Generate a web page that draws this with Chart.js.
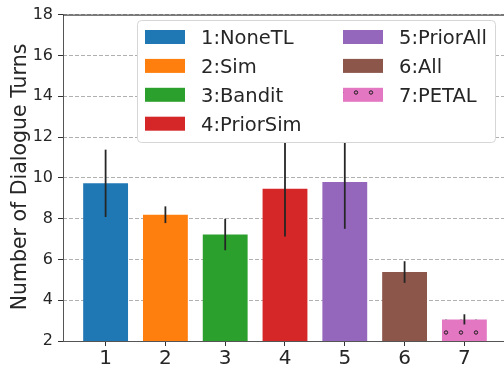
<!DOCTYPE html>
<html><head><meta charset="utf-8">
<script src="https://cdn.jsdelivr.net/npm/chart.js@4.4.1/dist/chart.umd.min.js"></script>
<style>html,body{margin:0;padding:0;background:#fff;overflow:hidden}</style>
</head><body><canvas id="c" width="504" height="371"></canvas>
<script>
const categories = [1, 2, 3, 4, 5, 6, 7];
const xTickLabels = ['1', '2', '3', '4', '5', '6', '7'];
const methodNames = ['1:NoneTL', '2:Sim', '3:Bandit', '4:PriorSim', '5:PriorAll', '6:All', '7:PETAL'];
const meanTurns = [9.73, 8.19, 7.22, 9.46, 9.80, 5.38, 3.06];
const errTurns = [1.65, 0.41, 0.77, 2.34, 2.30, 0.53, 0.25];
const yTicks = [2, 4, 6, 8, 10, 12, 14, 16, 18];
const barColors = ['#1f77b4', '#ff7f0e', '#2ca02c', '#d62728', '#9467bd', '#8c564b', '#e377c2'];

const canvas = document.getElementById('c');
const cctx = canvas.getContext('2d');
function makeDots(color) {
  const t = document.createElement('canvas'); t.width = 15; t.height = 15;
  const g = t.getContext('2d');
  g.fillStyle = color; g.fillRect(0, 0, 15, 15);
  g.strokeStyle = '#1a1a1a'; g.lineWidth = 1;
  g.beginPath(); g.arc(11, 2.5, 1.7, 0, Math.PI * 2); g.stroke();
  return cctx.createPattern(t, 'repeat');
}
const barFills = barColors.map((c, i) => i === 6 ? makeDots(c) : c);
const FONT = "'DejaVu Sans', sans-serif";
const TXT = '#262626';

const decor = {
  id: 'decor',
  afterDatasetsDraw(chart) {
    const { ctx, scales: { x, y }, chartArea: a } = chart;
    ctx.save();
    ctx.strokeStyle = '#262626'; ctx.lineWidth = 1.8;
    categories.forEach((c, i) => {
      const px = x.getPixelForValue(c);
      ctx.beginPath();
      ctx.moveTo(px, y.getPixelForValue(meanTurns[i] - errTurns[i]));
      ctx.lineTo(px, y.getPixelForValue(meanTurns[i] + errTurns[i]));
      ctx.stroke();
    });
    ctx.lineWidth = 1;
    ctx.strokeStyle = '#555';
    ctx.beginPath(); ctx.moveTo(a.left + 0.5, a.top); ctx.lineTo(a.left + 0.5, a.bottom + 0.5); ctx.stroke();
    ctx.beginPath(); ctx.moveTo(a.left, a.bottom + 0.5); ctx.lineTo(a.right, a.bottom + 0.5); ctx.stroke();
    ctx.strokeStyle = '#222';
    ctx.beginPath(); ctx.moveTo(a.left, a.top + 0.5); ctx.lineTo(a.right, a.top + 0.5); ctx.stroke();
    ctx.restore();
  },
  afterDraw(chart) {
    const ctx = chart.ctx;
    ctx.save();
    ctx.save();
    ctx.translate(26, 177); ctx.rotate(-Math.PI / 2);
    ctx.font = '20.5px ' + FONT; ctx.fillStyle = TXT;
    ctx.textAlign = 'center'; ctx.textBaseline = 'alphabetic';
    ctx.fillText('Number of Dialogue Turns', 0, 0);
    ctx.restore();
    const bx = 137.5, by = 20.5, bw = 358, bh = 122, r = 4;
    ctx.beginPath();
    ctx.moveTo(bx + r, by); ctx.lineTo(bx + bw - r, by); ctx.arcTo(bx + bw, by, bx + bw, by + r, r);
    ctx.lineTo(bx + bw, by + bh - r); ctx.arcTo(bx + bw, by + bh, bx + bw - r, by + bh, r);
    ctx.lineTo(bx + r, by + bh); ctx.arcTo(bx, by + bh, bx, by + bh - r, r);
    ctx.lineTo(bx, by + r); ctx.arcTo(bx, by, bx + r, by, r); ctx.closePath();
    ctx.fillStyle = '#ffffff'; ctx.fill();
    ctx.strokeStyle = '#d6d6d6'; ctx.lineWidth = 1; ctx.stroke();
    ctx.font = '19.5px ' + FONT; ctx.textAlign = 'left'; ctx.textBaseline = 'alphabetic';
    methodNames.forEach((name, i) => {
      const col = i < 4 ? 0 : 1, row = i < 4 ? i : i - 4;
      const sx = col ? 343 : 145, tx = col ? 399 : 201;
      const cy = 37 + row * 28.9;
      ctx.fillStyle = barFills[i];
      ctx.fillRect(sx, cy - 7, 40, 14);
      ctx.fillStyle = TXT;
      ctx.fillText(name, tx, cy + 6.8);
    });
    ctx.restore();
  }
};

new Chart(cctx, {
  type: 'bar',
  data: {
    datasets: [{
      data: categories.map((c, i) => ({ x: c, y: meanTurns[i] })),
      backgroundColor: barFills,
      borderWidth: 0,
      barPercentage: 0.75,
      categoryPercentage: 1.0
    }]
  },
  options: {
    responsive: false,
    animation: false,
    events: [],
    layout: { padding: { top: 10, right: 0, left: 0, bottom: 0 } },
    plugins: { legend: { display: false }, tooltip: { enabled: false } },
    scales: {
      x: {
        type: 'linear',
        offset: false,
        min: 0.2875, max: 7.6625,
        afterBuildTicks: s => { s.ticks = categories.map(v => ({ value: v })); },
        afterFit: s => { s.height = 30; },
        grid: { offset: false, color: 'rgba(0,0,0,0)', tickColor: '#333', tickLength: 5, tickWidth: 1 },
        border: { display: false },
        ticks: {
          font: { family: FONT, size: 20 }, color: TXT, padding: 1,
          callback: v => xTickLabels[categories.indexOf(v)]
        }
      },
      y: {
        type: 'linear',
        min: 2, max: 18,
        beginAtZero: false,
        afterBuildTicks: s => { s.ticks = yTicks.map(v => ({ value: v })); },
        afterFit: s => { s.width = 63; },
        grid: { color: '#b0b0b0', lineWidth: 1, tickColor: '#333', tickLength: 5, tickWidth: 1, tickBorderDash: [] },
        border: { display: false, dash: [4, 2] },
        ticks: { font: { family: FONT, size: 16 }, color: TXT, padding: 5, callback: v => String(v) }
      }
    }
  },
  plugins: [decor]
});
</script></body></html>
